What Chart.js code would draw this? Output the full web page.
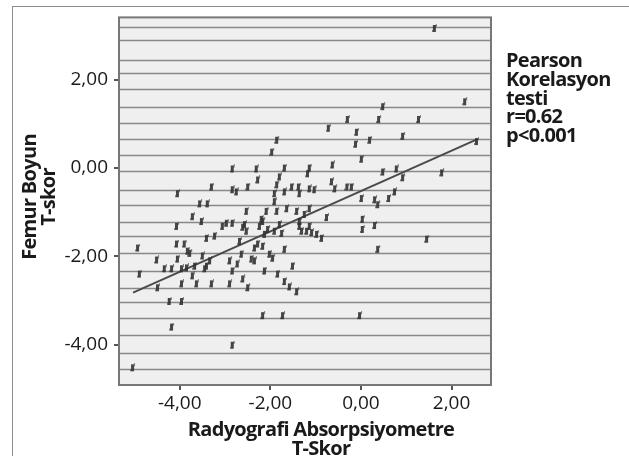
<!DOCTYPE html>
<html>
<head>
<meta charset="utf-8">
<script src="https://cdn.jsdelivr.net/npm/chart.js@4.4.1/dist/chart.umd.min.js"></script>
<style>
  html, body { margin: 0; padding: 0; background: #fff; overflow: hidden; }
  #wrap { position: relative; width: 629px; height: 456px; }
  #frame { position: absolute; left: 12px; top: 6px; width: 700px; height: 500px; border: 1px solid #8c8c8c; }
  canvas { position: absolute; left: 0; top: 0; }
</style>
</head>
<body>
<div id="wrap">
  <div id="frame"></div>
  <canvas id="scatterChart" width="629" height="456"></canvas>
</div>
<script>
// Radyografi Absorpsiyometre T-skor (x) vs Femur Boyun T-skor (y)
const rxaT = [
  1.63, 2.30, 0.49, -0.29, 0.40, 1.28, -0.71, -0.09, -0.11, 0.20,
  0.93, 2.56, 0.02, -0.62, -1.13, 0.49, 0.79, 0.93, 1.79, -0.64,
  -0.20, -1.02, 0.02, 0.31, 0.38, 0.62, 0.75, -0.75, 0.04, 0.31,
  1.46, 0.38, -0.86, 0.04, -0.02, -1.85, -1.96, -2.83, -2.30, -1.68,
  -2.27, -1.79, -1.85, -1.17, -2.49, -1.68, -1.90, -1.52, -1.37, -1.35,
  -1.13, -0.57, -0.30, -1.90, -2.52, -2.08, -1.85, -1.63, -1.41, -1.13,
  -1.24, -2.19, -2.56, -2.52, -2.60, -2.23, -2.05, -1.90, -1.74, -2.12,
  -1.79, -1.35, -1.30, -1.19, -1.13, -1.08, -0.97, -1.35, -2.67, -2.34,
  -2.27, -2.16, -2.63, -1.68, -2.01, -1.94, -2.41, -2.34, -1.50, -2.12,
  -1.83, -1.68, -1.57, -1.41, -2.60, -2.49, -2.16, -1.72, -2.83, -2.89,
  -2.72, -2.83, -2.89, -2.83, -2.96, -3.29, -2.83, -2.74, -4.04, -3.55,
  -3.38, -3.71, -3.51, -4.06, -3.05, -3.40, -3.22, -4.92, -4.06, -3.89,
  -3.82, -3.49, -4.50, -4.04, -4.33, -4.17, -3.95, -3.84, -3.66, -3.44,
  -3.40, -3.71, -4.88, -4.48, -3.95, -3.62, -3.29, -4.22, -3.95, -4.17,
  -5.03, -3.33, -3.77, -2.16
];
const femurT = [
  3.16, 1.50, 1.39, 1.10, 1.10, 1.10, 0.90, 0.81, 0.54, 0.63,
  0.72, 0.60, 0.20, 0.07, 0.00, -0.09, -0.02, -0.22, -0.11, -0.31,
  -0.43, -0.49, -0.69, -0.72, -0.83, -0.69, -0.54, -1.12, -1.16, -1.30,
  -1.61, -1.84, -1.59, -1.39, -3.34, 0.63, 0.36, -0.02, -0.02, 0.00,
  -0.27, -0.20, -0.38, -0.13, -0.43, -0.54, -0.58, -0.43, -0.43, -0.58,
  -0.47, -0.47, -0.43, -0.76, -0.98, -0.98, -0.98, -0.92, -0.98, -0.92,
  -1.05, -1.16, -1.28, -1.43, -1.34, -1.32, -1.39, -1.43, -1.48, -1.50,
  -1.28, -1.32, -1.43, -1.43, -1.32, -1.46, -1.50, -1.21, -1.66, -1.81,
  -1.72, -1.77, -1.95, -1.84, -1.95, -2.04, -2.06, -2.10, -2.22, -2.33,
  -2.40, -2.57, -2.69, -2.80, -2.51, -2.71, -3.34, -3.34, -4.01, -2.10,
  -2.17, -2.33, -2.62, -1.25, -1.25, -0.43, -0.49, -0.54, -0.58, -0.81,
  -0.81, -1.10, -1.21, -1.32, -1.32, -1.59, -1.54, -1.81, -1.72, -1.72,
  -1.88, -1.99, -2.08, -2.06, -2.28, -2.28, -2.28, -2.26, -2.22, -2.28,
  -2.22, -2.44, -2.40, -2.71, -2.62, -2.62, -2.62, -3.02, -3.02, -3.60,
  -4.52, -2.10, -1.93, -1.21
];

// fit line end points
const fitX = [-5.03, 2.56];
const fitY = [-2.82, 0.65];

// horizontal reference lines across the plot
const refLines = [3.20, 2.89, 2.44, 2.15, 1.79, 1.39, 1.03, 0.65, 0.29, -0.07, -0.49,
  -0.83, -1.23, -1.54, -1.93, -2.33, -2.71, -3.04, -3.40, -3.78, -4.19, -4.54];

const xTicks = [-4, -2, 0, 2];
const yTicks = [-4, -2, 0, 2];

const xTitle = ['Radyografi Absorpsiyometre', 'T-Skor'];
const yTitle = ['Femur Boyun', 'T-skor'];
const noteLines = ['Pearson', 'Korelasyon', 'testi', 'r=0.62', 'p<0.001'];

// small marker glyph like the scanned SPSS markers
const marker = document.createElement('canvas');
marker.width = 6;
marker.height = 9;
(function () {
  const c = marker.getContext('2d');
  c.fillStyle = 'rgba(50,50,50,0.9)';
  c.fillRect(1, 1, 3, 7);
  c.fillStyle = 'rgba(50,50,50,0.6)';
  c.fillRect(4, 0, 1, 3);
  c.fillRect(0, 6, 1, 2);
})();

const fmt = v => v.toFixed(2).replace('.', ',');

const plotDecor = {
  id: 'plotDecor',
  beforeDatasetsDraw(chart) {
    const { ctx, chartArea: a, scales } = chart;
    ctx.save();
    ctx.fillStyle = '#efefef';
    ctx.fillRect(a.left, a.top, a.right - a.left, a.bottom - a.top);
    ctx.strokeStyle = '#888';
    ctx.lineWidth = 1.7;
    refLines.forEach(v => {
      const y = Math.round(scales.y.getPixelForValue(v)) + 0.5;
      ctx.beginPath();
      ctx.moveTo(a.left, y);
      ctx.lineTo(a.right, y);
      ctx.stroke();
    });
    ctx.strokeStyle = '#777';
    ctx.lineWidth = 2;
    ctx.strokeRect(a.left, a.top, a.right - a.left, a.bottom - a.top);
    ctx.restore();
  },
  afterDraw(chart) {
    const { ctx } = chart;
    ctx.save();
    ctx.fillStyle = '#1a1a1a';
    ctx.font = 'bold 20px "Open Sans"';
    ctx.letterSpacing = '-0.7px';
    ctx.textBaseline = 'alphabetic';

    // right-hand note
    ctx.textAlign = 'left';
    noteLines.forEach((t, i) => ctx.fillText(t, 506, 67 + i * 18.8));

    // x axis title
    ctx.textAlign = 'center';
    ctx.fillText(xTitle[0], 321, 436);
    ctx.fillText(xTitle[1], 321, 455);

    // y axis title
    ctx.translate(0, 197);
    ctx.rotate(-Math.PI / 2);
    ctx.fillText(yTitle[0], 0, 36);
    ctx.fillText(yTitle[1], 0, 55);
    ctx.restore();
  }
};

new Chart(document.getElementById('scatterChart'), {
  type: 'scatter',
  data: {
    datasets: [
      {
        data: rxaT.map((x, i) => ({ x, y: femurT[i] })),
        pointStyle: marker,
        pointRadius: 4,
        pointHoverRadius: 4
      },
      {
        data: fitX.map((x, i) => ({ x, y: fitY[i] })),
        showLine: true,
        borderColor: '#4a4a4a',
        borderWidth: 2,
        pointRadius: 0
      }
    ]
  },
  options: {
    responsive: false,
    animation: false,
    events: [],
    layout: { padding: { left: 0, top: 14, right: 138, bottom: 0 } },
    plugins: { legend: { display: false }, tooltip: { enabled: false } },
    scales: {
      x: {
        type: 'linear',
        min: -5.34,
        max: 2.87,
        afterBuildTicks: s => { s.ticks = xTicks.map(v => ({ value: v })); },
        afterFit: s => { s.height = 71; },
        border: { display: false },
        grid: { drawOnChartArea: false, drawTicks: true, tickLength: 5, color: '#555', lineWidth: 2 },
        ticks: { callback: v => fmt(v), color: '#1a1a1a', padding: 2, maxRotation: 0,
          font: { family: 'Open Sans', size: 19 } }
      },
      y: {
        type: 'linear',
        min: -4.91,
        max: 3.41,
        afterBuildTicks: s => { s.ticks = yTicks.map(v => ({ value: v })); },
        afterFit: s => { s.width = 119; },
        border: { display: false },
        grid: { drawOnChartArea: false, drawTicks: true, tickLength: 5, color: '#555', lineWidth: 2 },
        ticks: { callback: v => fmt(v), color: '#1a1a1a', padding: 6,
          font: { family: 'Open Sans', size: 19 } }
      }
    }
  },
  plugins: [plotDecor]
});
</script>
</body>
</html>
